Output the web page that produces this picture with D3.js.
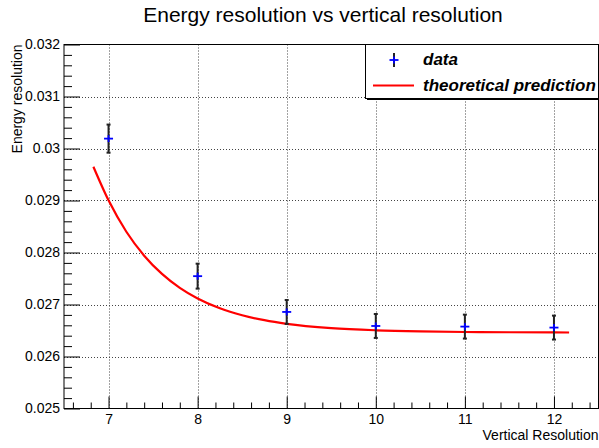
<!DOCTYPE html>
<html>
<head>
<meta charset="utf-8">
<script src="https://cdn.jsdelivr.net/npm/d3@7/dist/d3.min.js"></script>
<style>
html,body{margin:0;padding:0;background:#fff;}
svg{display:block;font-family:"Liberation Sans",Arial,Helvetica,sans-serif;}
</style>
</head>
<body>
<svg id="chart" width="599" height="448"></svg>
<script>
// ---- data ----
const xValues = [7, 8, 9, 10, 11, 12];
const dataValues = [0.03019, 0.027545, 0.026857, 0.026587, 0.026575, 0.026556];
const dataErrors = [0.00027, 0.00024, 0.00023, 0.00023, 0.00023, 0.00023];
const curveX = [6.83, 7.0, 7.2, 7.4, 7.6, 7.8, 8.0, 8.25, 8.5, 8.75, 9.0, 9.5, 10.0, 10.5, 11.0, 11.5, 12.0, 12.17];
const curveY = [0.02965, 0.029003, 0.028399, 0.027939, 0.027588, 0.02732, 0.027116, 0.026927, 0.026793, 0.026698, 0.026629, 0.026546, 0.026504, 0.026482, 0.026471, 0.026466, 0.026463, 0.026462];
const xTickLabels = ["7", "8", "9", "10", "11", "12"];
const yTickLabels = ["0.025", "0.026", "0.027", "0.028", "0.029", "0.03", "0.031", "0.032"];
const titleText = "Energy resolution vs vertical resolution";
const xTitle = "Vertical Resolution";
const yTitle = "Energy resolution";
const legendLabels = ["data", "theoretical prediction"];

// ---- layout ----
const svg = d3.select("#chart");
const L = 64, R = 598.5, T = 44.5, B = 408.5;
const x = d3.scaleLinear().domain([6.5, 12.5]).range([L, R]);
const y = d3.scaleLinear().domain([0.025, 0.032]).range([B, T]);

const xMajors = xTickLabels.map(Number);
const yMajors = yTickLabels.map(Number);
const xMinors = d3.range(6.6, 12.5, 0.2).map(v => +v.toFixed(2)).filter(v => !xMajors.some(m => Math.abs(m - v) < 1e-6));
const yMinors = d3.range(0.0252, 0.0320, 0.0002).map(v => +v.toFixed(5)).filter(v => !yMajors.some(m => Math.abs(m - v) < 1e-7));

// grid
const grid = svg.append("g").attr("stroke", "#444").attr("stroke-width", 1).attr("stroke-dasharray", "1,2");
grid.selectAll("line.gx").data(xMajors).join("line")
  .attr("x1", d => Math.round(x(d)) + 0.5).attr("x2", d => Math.round(x(d)) + 0.5)
  .attr("y1", T).attr("y2", B);
grid.selectAll("line.gy").data(yMajors.slice(1, -1)).join("line")
  .attr("y1", d => Math.round(y(d)) + 0.5).attr("y2", d => Math.round(y(d)) + 0.5)
  .attr("x1", L).attr("x2", R);

// x axis
const xAxisMajor = d3.axisBottom(x).tickValues(xMajors).tickSize(-12).tickPadding(6).tickFormat((d, i) => xTickLabels[i]);
const xAxisMinor = d3.axisBottom(x).tickValues(xMinors).tickSize(-6).tickFormat("");
const gx1 = svg.append("g").attr("transform", `translate(0,${B})`).call(xAxisMinor);
const gx2 = svg.append("g").attr("transform", `translate(0,${B})`).call(xAxisMajor);
[gx1, gx2].forEach(g => { g.select(".domain").remove(); g.selectAll("line").attr("stroke", "#000"); });
gx2.selectAll("text").attr("font-size", 14).attr("fill", "#000").attr("font-family", "Liberation Sans, Arial, sans-serif");

// y axis
const yAxisMajor = d3.axisLeft(y).tickValues(yMajors).tickSize(-16).tickPadding(4).tickFormat((d, i) => yTickLabels[i]);
const yAxisMinor = d3.axisLeft(y).tickValues(yMinors).tickSize(-8).tickFormat("");
const gy1 = svg.append("g").attr("transform", `translate(${L},0)`).call(yAxisMinor);
const gy2 = svg.append("g").attr("transform", `translate(${L},0)`).call(yAxisMajor);
[gy1, gy2].forEach(g => { g.select(".domain").remove(); g.selectAll("line").attr("stroke", "#000"); });
gy2.selectAll("text").attr("font-size", 14).attr("fill", "#000").attr("font-family", "Liberation Sans, Arial, sans-serif");

// frame
svg.append("rect").attr("x", L).attr("y", T).attr("width", R - L).attr("height", B - T)
  .attr("fill", "none").attr("stroke", "#000").attr("stroke-width", 1);

// curve
const curveData = curveX.map((v, i) => [v, curveY[i]]);
svg.append("path").datum(curveData)
  .attr("d", d3.line().x(d => x(d[0])).y(d => y(d[1])).curve(d3.curveMonotoneX))
  .attr("fill", "none").attr("stroke", "#ff0000").attr("stroke-width", 2.2);

// data points with error bars
const pts = xValues.map((v, i) => ({ x: v, y: dataValues[i], e: dataErrors[i] }));
const pg = svg.append("g");
pts.forEach(p => {
  const cx = x(p.x), cy = y(p.y), y1 = y(p.y + p.e), y2 = y(p.y - p.e);
  pg.append("line").attr("x1", cx).attr("x2", cx).attr("y1", y1).attr("y2", y2).attr("stroke", "#222").attr("stroke-width", 2);
  pg.append("line").attr("x1", cx - 2).attr("x2", cx + 2).attr("y1", y1).attr("y2", y1).attr("stroke", "#222").attr("stroke-width", 2);
  pg.append("line").attr("x1", cx - 2).attr("x2", cx + 2).attr("y1", y2).attr("y2", y2).attr("stroke", "#222").attr("stroke-width", 2);
  pg.append("line").attr("x1", cx - 4.5).attr("x2", cx + 4.5).attr("y1", cy).attr("y2", cy).attr("stroke", "#0000ff").attr("stroke-width", 1.8);
  pg.append("line").attr("x1", cx).attr("x2", cx).attr("y1", cy - 3.5).attr("y2", cy + 3.5).attr("stroke", "#0000ff").attr("stroke-width", 1.8);
});

// title
svg.append("text").attr("x", 323).attr("y", 22).attr("text-anchor", "middle")
  .attr("font-size", 21).attr("fill", "#000").text(titleText);
// axis titles
svg.append("text").attr("x", R).attr("y", 439.5).attr("text-anchor", "end")
  .attr("font-size", 14).attr("fill", "#000").text(xTitle);
svg.append("text").attr("transform", `translate(22,${T}) rotate(-90)`).attr("text-anchor", "end")
  .attr("font-size", 14).attr("fill", "#000").text(yTitle);

// legend
const lg = svg.append("g");
const lx = 365.5, ly = 44.5, lw = R - lx, lh = 54;
lg.append("rect").attr("x", lx + 1.5).attr("y", ly + 1.5).attr("width", lw).attr("height", lh).attr("fill", "#000");
lg.append("rect").attr("x", lx).attr("y", ly).attr("width", lw).attr("height", lh).attr("fill", "#fff").attr("stroke", "#000").attr("stroke-width", 1);
// data symbol
lg.append("line").attr("x1", 394).attr("x2", 394).attr("y1", 53).attr("y2", 67).attr("stroke", "#222").attr("stroke-width", 2);
lg.append("line").attr("x1", 389.5).attr("x2", 398.5).attr("y1", 60).attr("y2", 60).attr("stroke", "#0000ff").attr("stroke-width", 1.8);
lg.append("line").attr("x1", 394).attr("x2", 394).attr("y1", 56.5).attr("y2", 63.5).attr("stroke", "#0000ff").attr("stroke-width", 1.8);
// curve symbol
lg.append("line").attr("x1", 373).attr("x2", 414).attr("y1", 85.5).attr("y2", 85.5).attr("stroke", "#ff0000").attr("stroke-width", 2.2);
lg.append("text").attr("x", 423).attr("y", 65).attr("font-size", 17).attr("font-weight", "bold").attr("font-style", "italic").attr("fill", "#000").text(legendLabels[0]);
lg.append("text").attr("x", 423).attr("y", 91).attr("font-size", 17).attr("font-weight", "bold").attr("font-style", "italic").attr("fill", "#000").text(legendLabels[1]);
</script>
</body>
</html>
